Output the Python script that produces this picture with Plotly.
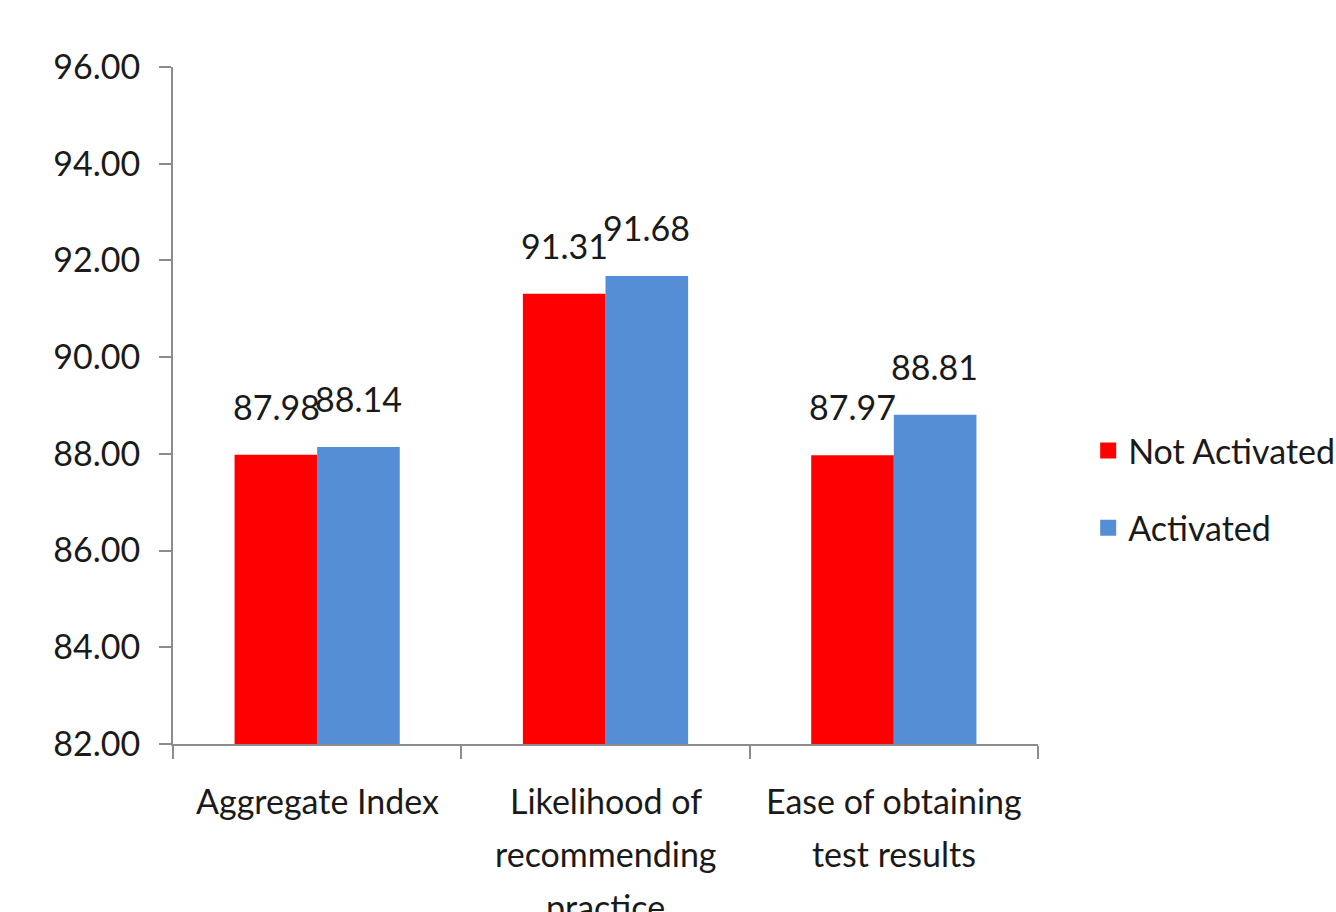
import plotly.graph_objects as go

categories = ["Aggregate Index", "Likelihood of recommending practice", "Ease of obtaining test results"]
category_lines = [["Aggregate Index"], ["Likelihood of", "recommending", "practice"], ["Ease of obtaining", "test results"]]
not_activated = [87.98, 91.31, 87.97]
activated = [88.14, 91.68, 88.81]
series_names = ["Not Activated", "Activated"]
series_colors = ["#FF0000", "#558ED5"]

FONT = "Lato, Liberation Sans Narrow, sans-serif"
TEXT = "#1A1A1A"
AXIS_GRAY = "#8C8C8C"

fig = go.Figure()
for i, (name, vals, color) in enumerate(zip(series_names, [not_activated, activated], series_colors)):
    fig.add_trace(go.Bar(
        x=categories, y=vals, name=name, marker=dict(color=color, line=dict(width=0)),
        showlegend=False,
    ))
    # legend entry with a larger square swatch
    fig.add_trace(go.Scatter(
        x=[None], y=[None], mode="markers", name=name, legendgroup=name,
        marker=dict(symbol="square", size=22, color=color),
    ))
    # value labels sitting above each bar
    for cat, v in zip(categories, vals):
        fig.add_annotation(
            x=cat, y=v, xref="x", yref="y", text=f"{v:.2f}", showarrow=False,
            xshift=-41 if i == 0 else 41, yanchor="bottom", yshift=26,
            font=dict(family=FONT, size=34, color=TEXT),
        )

# category labels under the axis, one line per annotation for wider line spacing
for cat, lines in zip(categories, category_lines):
    for k, line in enumerate(lines):
        fig.add_annotation(
            x=cat, y=0, xref="x", yref="paper", text=line, showarrow=False,
            yanchor="middle", yshift=-(56 + 53 * k),
            font=dict(family=FONT, size=34, color=TEXT),
        )

fig.update_layout(
    width=1336, height=912,
    margin=dict(l=173, r=298, t=67, b=168, autoexpand=False),
    paper_bgcolor="white", plot_bgcolor="white",
    barmode="group", bargap=0.427, bargroupgap=0,
    font=dict(family=FONT, size=34, color=TEXT),
    legend=dict(
        x=1.058, y=0.376, xanchor="left", yanchor="middle",
        traceorder="grouped", tracegroupgap=30,
        font=dict(family=FONT, size=34, color=TEXT),
        itemwidth=30, itemsizing="trace",
    ),
)
fig.update_yaxes(
    range=[82, 96], dtick=2, tickformat=".2f", showgrid=False,
    showline=True, linecolor=AXIS_GRAY, linewidth=2,
    ticks="outside", ticklen=12, tickcolor=AXIS_GRAY, tickwidth=2,
    ticklabelstandoff=12,
    tickfont=dict(family=FONT, size=34, color=TEXT),
    zeroline=False,
)
fig.update_xaxes(
    showgrid=False, showline=True, linecolor=AXIS_GRAY, linewidth=2,
    ticks="outside", ticklen=13, tickcolor=AXIS_GRAY, tickwidth=2,
    tickson="boundaries", showticklabels=False,
)

fig.write_html("out.html")
